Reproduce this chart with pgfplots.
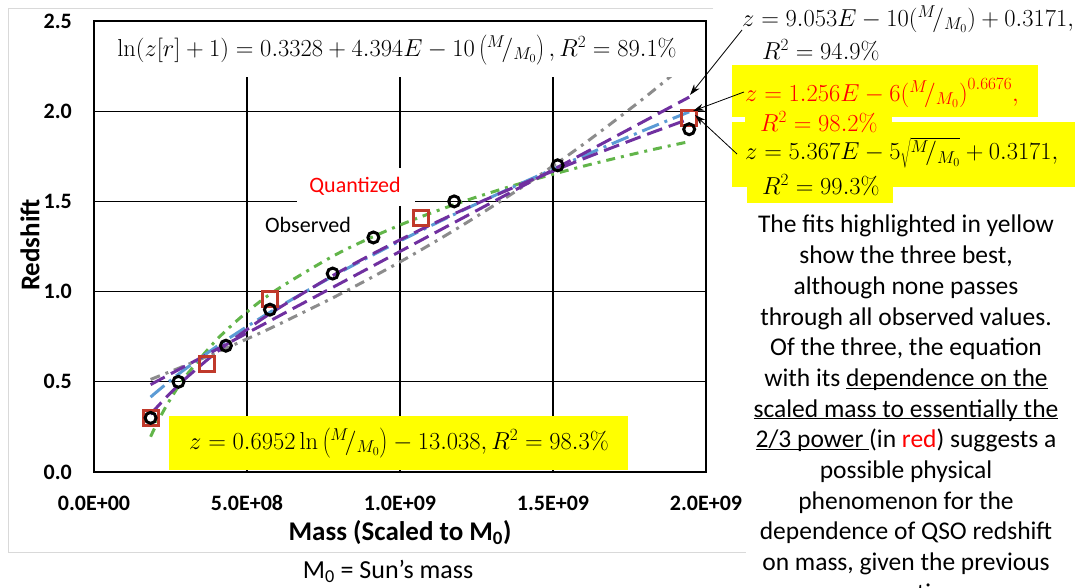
\RequirePackage{fix-cm}
\documentclass[border=0pt]{standalone}
\usepackage[no-math]{fontspec}
\setmainfont{Carlito}
\usepackage{pgfplots}
\pgfplotsset{compat=1.18}
\usetikzlibrary{arrows.meta}

\definecolor{fgray}{HTML}{8C8C8C}
\definecolor{fpurple}{HTML}{7030A0}
\definecolor{fblue}{HTML}{5B9BD5}
\definecolor{fgreen}{HTML}{62B54A}
\definecolor{qred}{HTML}{C0392B}
\definecolor{hyellow}{HTML}{FFFF00}
\definecolor{framegray}{HTML}{D9D9D9}

\newcommand\ul[1]{\underline{\smash{#1}}}
\newcommand\eqfont{\fontsize{24.5}{29}\selectfont}
\newcommand\MM{{}^{M}\!/_{M_0}}

\begin{document}
\begin{tikzpicture}[x=1pt,y=1pt]
\useasboundingbox (0,0) rectangle (1075,588);

\begin{scope}[shift={(0pt,588pt)}, x=1pt, y=-1pt]
\draw[framegray, line width=1pt] (713,9) -- (8,9) -- (8,553) -- (746,553);
\end{scope}

\begin{axis}[
  at={(94pt,116pt)}, anchor=south west,
  scale only axis, width=612pt, height=451pt,
  xmin=0, xmax=2, ymin=0, ymax=2.5,
  xtick={0,0.5,1,1.5,2},
  xticklabels={0.0E+00,5.0E+08,1.0E+09,1.5E+09,2.0E+09},
  ytick={0,0.5,1,1.5,2,2.5},
  yticklabels={0.0,0.5,1.0,1.5,2.0,2.5},
  major tick length=0pt,
  grid=major,
  grid style={black, line width=1.3pt},
  axis line style={black, line width=1.5pt},
  ticklabel style={font=\fontsize{22}{26}\selectfont\bfseries, inner sep=0pt},
  xticklabel style={anchor=center, yshift=-31pt},
  yticklabel style={anchor=east, xshift=-22pt},
]
% exponential fit (gray)
\addplot[fgray, line width=3pt, dash pattern=on 10pt off 6pt on 3pt off 6pt, smooth] coordinates {
(0.185,0.5130)(0.3,0.5914)(0.4,0.6629)(0.5,0.7376)(0.6,0.8157)(0.8,0.9824)(1.0,1.1645)(1.2,1.3634)(1.4,1.5804)(1.6,1.8175)(1.8,2.0763)(1.945,2.2786)};
% log fit (green)
\addplot[fgreen, line width=3pt, dash pattern=on 9pt off 6pt on 3pt off 6pt, smooth] coordinates {
(0.185,0.1957)(0.2,0.2499)(0.22,0.3162)(0.25,0.4051)(0.3,0.5318)(0.4,0.7318)(0.5,0.8869)(0.6,1.0137)(0.8,1.2137)(1.0,1.3688)(1.2,1.4956)(1.4,1.6027)(1.6,1.6955)(1.8,1.7774)(1.945,1.8313)};
% power fit (blue)
\addplot[fblue, line width=3pt, dash pattern=on 18pt off 6pt on 3pt off 6pt, smooth] coordinates {
(0.185,0.4151)(0.2,0.4373)(0.25,0.5075)(0.3,0.5732)(0.4,0.6946)(0.5,0.8061)(0.6,0.9105)(0.8,1.1033)(1.0,1.2805)(1.2,1.4462)(1.4,1.6030)(1.6,1.7525)(1.8,1.8958)(1.945,1.9965)};
% square-root fit (purple)
\addplot[fpurple, line width=3pt, dash pattern=on 16pt off 7pt, smooth] coordinates {
(0.185,0.3199)(0.2,0.3489)(0.25,0.4385)(0.3,0.5195)(0.4,0.6633)(0.5,0.7900)(0.6,0.9045)(0.8,1.1078)(1.0,1.2870)(1.2,1.4490)(1.4,1.5979)(1.6,1.7366)(1.8,1.8668)(1.945,1.9567)};
% linear fit (purple)
\addplot[fpurple, line width=3pt, dash pattern=on 16pt off 7pt] coordinates {
(0.185,0.4846)(1.945,2.0779)};
% quantized
\addplot[only marks, mark=square, mark size=7.5pt, mark options={qred, line width=3pt}] coordinates {
(0.185,0.30)(0.370,0.60)(0.575,0.96)(1.068,1.41)(1.945,1.96)};
% observed
\addplot[only marks, mark=o, mark size=5.5pt, mark options={black, line width=3pt}] coordinates {
(0.185,0.3)(0.276,0.5)(0.431,0.7)(0.575,0.9)(0.780,1.1)(0.913,1.3)(1.177,1.5)(1.515,1.7)(1.945,1.9)};
\end{axis}

\begin{scope}[shift={(0pt,588pt)}, x=1pt, y=-1pt]
% top equation box
\fill[white] (96,22.5) rectangle (704.5,77);
\node[font=\eqfont] at (397,50) {$\ln(z[r]+1) = 0.3328 + 4.394E - 10\left(\MM\right), R^2 = 89.1\%$};
% quantized / observed labels
\fill[white] (297,168) rectangle (415,206);
\node[text=red, font=\fontsize{22}{26}\selectfont] at (355,186) {Quantized};
\node[font=\fontsize{22}{26}\selectfont] at (308,225) {Observed};
% bottom yellow equation
\fill[hyellow] (169,416) rectangle (628,470);
\node[font=\eqfont] at (399,443) {$z = 0.6952\ln\left(\MM\right) - 13.038, R^2 = 98.3\%$};
% right equations
\node[font=\eqfont, anchor=west, inner sep=0pt] at (742,19) {$z = 9.053E - 10\bigl(\MM\bigr) + 0.3171,$};
\node[font=\eqfont, anchor=west, inner sep=0pt] at (762,50) {$R^2 = 94.9\%$};
\fill[hyellow] (732,65) rectangle (1038,117);
\fill[hyellow] (745,112) rectangle (892,135);
\fill[hyellow] (732,122) rectangle (1075,187);
\fill[hyellow] (747,185) rectangle (893,203);
\node[font=\eqfont, text=red, anchor=west, inner sep=0pt] at (745,93) {$z = 1.256E - 6\bigl(\MM\bigr)^{0.6676},$};
\node[font=\eqfont, text=red, anchor=west, inner sep=0pt] at (760,122) {$R^2 = 98.2\%$};
\node[font=\eqfont, anchor=west, inner sep=0pt] at (745,153) {$z = 5.367E - 5\sqrt{\vphantom{\Big(}\MM} + 0.3171,$};
\node[font=\eqfont, anchor=west, inner sep=0pt] at (762,185) {$R^2 = 99.3\%$};
% arrows
\draw[-{Stealth[length=11pt,width=7pt]}, line width=0.8pt] (742,30) -- (690,95);
\draw[-{Stealth[length=11pt,width=7pt]}, line width=0.8pt] (744,92) -- (693,111);
\draw[-{Stealth[length=11pt,width=7pt]}, line width=0.8pt] (737,154) -- (695,115);
% axis titles
\node[rotate=90, font=\fontsize{27}{32}\selectfont\bfseries] at (30,245) {Redshift};
\node[font=\fontsize{27}{32}\selectfont\bfseries] at (400,533) {Mass (Scaled to M\textsubscript{0})};
\node[font=\fontsize{26}{30}\selectfont] at (388,571) {M\textsubscript{0} = Sun’s mass};
% paragraph
\begin{scope}[every node/.style={anchor=base, inner sep=0pt, font=\fontsize{25.5}{30.7}\selectfont}]
\node at (906,233.0) {The fits highlighted in yellow};
\node at (906,263.7) {show the three best,};
\node at (906,294.4) {although none passes};
\node at (906,325.1) {through all observed values.};
\node at (906,355.8) {Of the three, the equation};
\node at (906,386.5) {with its \ul{dependence on the}};
\node at (906,417.2) {\ul{scaled mass to essentially the}};
\node at (906,447.9) {\ul{2/3 power }(in \textcolor{red}{red}) suggests a};
\node at (906,478.6) {possible physical};
\node at (906,509.3) {phenomenon for the};
\node at (906,540.0) {dependence of QSO redshift};
\node at (906,570.7) {on mass, given the previous};
\node at (906,601.4) {assumptions.};
\end{scope}
\end{scope}
\end{tikzpicture}
\end{document}
